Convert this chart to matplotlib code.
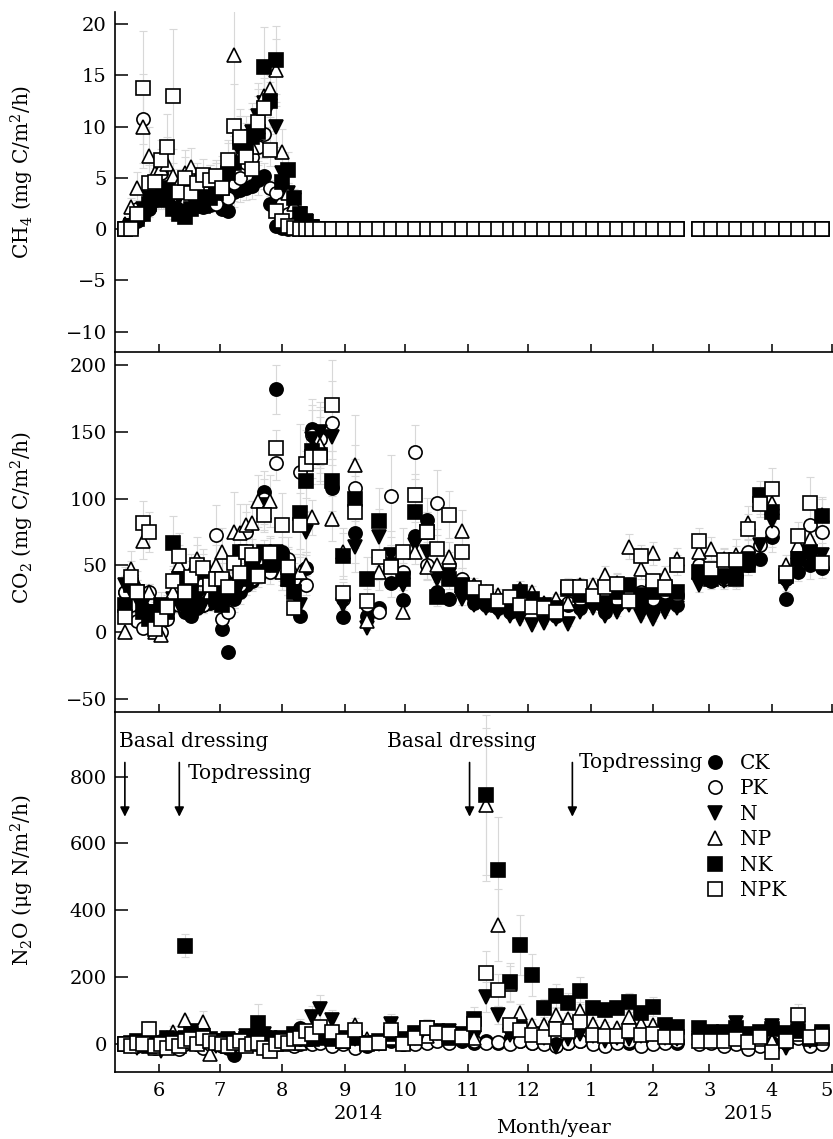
import numpy as np
import matplotlib
matplotlib.use("Agg")
import matplotlib.pyplot as plt
import matplotlib.dates as mdates
from matplotlib.ticker import FuncFormatter

# ====== SAMPLING DAYS (days after 2014-06-01) ======
days_rice = [-17, -14, -11, -8, -5, -2, 1, 4, 7, 10, 13, 16, 19, 22, 25, 28,
             31, 34, 37, 40, 43, 46, 49, 52, 55, 58, 61, 64, 67, 70, 73, 76]
days_wheat = [80, 86, 91, 97, 103, 109, 115, 121, 127, 133, 138, 144, 150, 156,
              162, 168, 174, 179, 185, 191, 197, 203, 209, 215, 221, 227, 233,
              239, 245, 251, 257, 268, 274, 280, 286, 292, 298, 304, 311, 317,
              323, 329]

treatments = ["CK", "PK", "N", "NP", "NK", "NPK"]

# ====== CH4 (mg C/m2/h) ======
ch4_rice = {
    "CK":  [0.0, 0.2, 0.8, 1.5, 2.0, 2.8, 3.2, 3.5, 3.0, 2.5, 2.8, 3.0, 2.6, 2.2, 2.4, 2.6,
            2.0, 1.8, 3.6, 3.8, 4.0, 4.2, 4.8, 5.2, 2.5, 0.3, 0.1, 0.0, 0.0, 0.0, 0.0, 0.0],
    "PK":  [0.0, 0.5, 2.0, 10.8, 3.5, 4.8, 5.5, 4.0, 3.5, 3.2, 3.0, 3.8, 3.5, 2.8, 3.0, 2.5,
            3.5, 3.0, 4.5, 5.0, 6.5, 7.0, 8.0, 9.3, 4.0, 3.5, 2.5, 1.5, 0.5, 0.2, 0.0, 0.0],
    "N":   [0.0, 0.3, 1.0, 2.0, 3.0, 3.5, 4.0, 3.8, 3.2, 3.0, 3.5, 3.0, 3.2, 2.8, 3.5, 4.0,
            4.5, 5.0, 6.5, 7.5, 8.5, 9.5, 11.0, 12.3, 12.0, 10.0, 5.5, 3.5, 2.8, 1.5, 0.8, 0.2],
    "NP":  [0.5, 2.2, 4.0, 10.0, 7.1, 5.5, 6.0, 6.4, 5.2, 4.5, 5.5, 6.1, 5.0, 4.5, 4.8, 5.0,
            5.5, 6.5, 17.0, 7.2, 7.5, 8.0, 10.0, 13.0, 13.7, 15.5, 7.5, 3.5, 2.5, 1.2, 0.4, 0.0],
    "NK":  [0.0, 0.3, 1.0, 1.5, 2.5, 3.0, 2.8, 3.5, 2.0, 1.5, 1.2, 2.0, 2.5, 2.3, 3.0, 3.5,
            4.0, 5.5, 6.5, 8.5, 8.0, 9.0, 9.5, 15.8, 12.5, 16.5, 4.6, 5.8, 3.0, 1.5, 0.7, 0.2],
    "NPK": [0.0, 0.0, 1.5, 13.8, 4.5, 4.6, 6.7, 8.0, 13.0, 3.6, 5.0, 3.5, 4.5, 5.3, 4.8, 5.2,
            4.0, 6.7, 10.1, 9.0, 7.0, 5.9, 10.5, 11.8, 7.7, 1.8, 0.8, 0.3, 0.1, 0.0, 0.0, 0.0],
}
# after drainage all treatments sit at zero
ch4_wheat = [0.0, 0.0, 0.0, 0.0, 0.0, 0.0, 0.0, 0.0, 0.0, 0.0, 0.0, 0.0, 0.0, 0.0,
             0.0, 0.0, 0.0, 0.0, 0.0, 0.0, 0.0, 0.0, 0.0, 0.0, 0.0, 0.0, 0.0, 0.0,
             0.0, 0.0, 0.0, 0.0, 0.0, 0.0, 0.0, 0.0, 0.0, 0.0, 0.0, 0.0, 0.0, 0.0]
ch4_cv_rice = [0.3, 0.4, 0.4, 0.4, 0.4, 0.3, 0.3, 0.4, 0.5, 0.3, 0.4, 0.3, 0.3, 0.3, 0.3, 0.3,
               0.3, 0.3, 0.4, 0.3, 0.3, 0.3, 0.3, 0.25, 0.2, 0.2, 0.3, 0.3, 0.3, 0.3, 0.3, 0.3]

# ====== CO2 (mg C/m2/h) ======
co2_rice = {
    "CK":  [30, 25, 20, 18, 15, 10, 12, 15, 20, 22, 15, 12, 18, 20, 22, 28,
            2, -15, 25, 30, 35, 38, 50, 105, 60, 182, 60, 48, 35, 12, 48, 152],
    "PK":  [30, 20, 8, 3, 30, 5, 0, 10, 25, 20, 30, 35, 25, 20, 30, 73,
            10, 15, 30, 35, 75, 40, 55, 100, 45, 127, 50, 55, 40, 120, 35, 148],
    "N":   [35, 30, 25, 20, 15, 10, 12, 18, 25, 20, 15, 18, 25, 20, 25, 30,
            20, 25, 30, 35, 40, 45, 55, 95, 50, 60, 45, 40, 30, 20, 75, 145],
    "NP":  [0, 47, 35, 68, 30, 0, -2, 20, 30, 50, 35, 45, 55, 40, 30, 50,
            60, 40, 75, 74, 80, 82, 98, 90, 98, 55, 45, 40, 45, 45, 50, 86],
    "NK":  [20, 35, 30, 15, 10, 15, 20, 15, 67, 40, 25, 30, 20, 45, 35, 25,
            20, 35, 30, 60, 40, 55, 45, 60, 50, 55, 55, 40, 30, 89, 113, 136],
    "NPK": [11, 41, 30, 82, 75, 2, 10, 19, 38, 57, 30, 41, 50, 48, 35, 40,
            40, 34, 52, 44, 60, 58, 42, 88, 59, 138, 80, 49, 18, 80, 126, 131],
}
co2_wheat = {
    "CK":  [147, 108, 11, 74, 12, 18, 37, 24, 72, 84, 30, 25, 30, 22, 20, 18, 15, 18, 22, 20, 12,
            20, 18, 22, 15, 20, 25, 22, 18, 22, 20, 45, 38, 40, 42, 50, 55, 71, 25, 45, 50, 48],
    "PK":  [145, 157, 25, 108, 20, 15, 102, 45, 135, 50, 97, 50, 40, 30, 25, 22, 20, 25, 22, 18, 20,
            22, 25, 28, 30, 25, 28, 30, 25, 30, 28, 50, 45, 40, 48, 60, 65, 75, 40, 55, 80, 75],
    "N":   [150, 146, 20, 64, 3, 71, 58, 35, 65, 60, 40, 43, 25, 20, 18, 15, 12, 10, 5, 7, 10,
            6, 15, 18, 12, 15, 20, 12, 10, 15, 18, 35, 40, 38, 45, 55, 65, 83, 36, 50, 60, 58],
    "NP":  [140, 85, 60, 125, 8, 45, 50, 15, 60, 49, 50, 56, 76, 35, 30, 28, 25, 32, 30, 22, 25,
            22, 35, 35, 43, 37, 64, 47, 59, 43, 55, 60, 62, 55, 58, 82, 98, 97, 50, 65, 70, 88],
    "NK":  [133, 113, 57, 100, 40, 83, 50, 40, 90, 75, 26, 40, 35, 30, 25, 20, 22, 30, 25, 20, 18,
            32, 28, 25, 22, 30, 35, 28, 30, 32, 30, 45, 40, 42, 40, 50, 103, 90, 42, 55, 60, 87],
    "NPK": [131, 170, 29, 90, 23, 56, 49, 60, 103, 75, 62, 88, 60, 33, 30, 23, 26, 20, 19, 18, 15,
            34, 34, 27, 34, 36, 23, 57, 38, 34, 50, 68, 47, 54, 54, 77, 96, 107, 44, 72, 97, 52],
}
co2_cv_rice = [0.4, 0.3, 0.3, 0.2, 0.2, 0.5, 0.5, 0.4, 0.3, 0.3, 0.3, 0.3, 0.3, 0.3, 0.3, 0.3,
               0.3, 0.3, 0.4, 0.3, 0.2, 0.2, 0.2, 0.15, 0.2, 0.1, 0.3, 0.3, 0.3, 0.3, 0.2, 0.15]
co2_cv_wheat = [0.15, 0.2, 0.3, 0.3, 0.4, 0.3, 0.3, 0.3, 0.15, 0.2, 0.25, 0.2, 0.2, 0.15,
                0.15, 0.15, 0.15, 0.2, 0.15, 0.15, 0.15, 0.2, 0.15, 0.15, 0.15, 0.2, 0.15, 0.15,
                0.15, 0.15, 0.15, 0.15, 0.15, 0.15, 0.2, 0.15, 0.1, 0.15, 0.15, 0.15, 0.2, 0.15]

# ====== N2O (ug N/m2/h) ======
n2o_rice = {
    "CK":  [0, 5, 10, 0, -5, 5, 10, 0, -5, 0, 10, 5, 0, 10, 15, 5,
            0, -10, -32, 0, 15, 10, 5, 25, 10, 0, 5, 10, 20, 50, 40, 20],
    "PK":  [5, 0, -5, 5, 0, -10, 5, 0, -5, -15, 0, 5, 0, -10, 0, 5,
            -5, 0, 5, -5, 0, 5, 0, -5, 5, 0, 5, 10, -5, 0, 10, 0],
    "N":   [0, -5, -10, -5, 0, -10, -20, -5, 0, 10, 20, 40, 30, 5, 0, -5,
            10, 15, 5, 10, 25, 20, 15, 30, 20, 10, 5, 15, 10, 25, 30, 82],
    "NP":  [0, 5, 0, 15, 10, -10, 0, 20, 37, 10, 73, 20, 5, 67, -29, 10,
            5, 0, 15, 5, 0, 10, 20, 5, 10, 15, 0, 20, 10, 5, 15, 25],
    "NK":  [0, 5, 10, 0, -5, 5, 0, 20, 10, 15, 295, 30, 20, 25, 15, 10,
            5, 0, 10, 5, 15, 20, 63, 20, 10, 15, 20, 10, 30, 25, 20, 15],
    "NPK": [0, -5, 5, 0, 46, -5, 0, -10, 5, -5, 10, 15, 0, 20, 10, 5,
            0, -5, 5, 10, -5, 0, 5, -10, -20, 0, 10, 5, 15, 20, 40, 30],
}
n2o_wheat = {
    "CK":  [10, 0, 5, 10, -5, 5, 10, 0, 20, 15, 25, 20, 10, 5, 10, 5, 15, 10, 5, 10, 0,
            5, 10, 5, 0, 10, 5, 0, 5, 10, 5, 15, 10, 5, 10, 0, 20, 5, 10, 25, 0, 20],
    "PK":  [5, -5, 0, -10, 0, 5, 20, 0, 0, 5, 10, 5, 20, 10, 5, 8, 0, 10, 5, 0, -5,
            5, 10, 0, -5, 5, 10, -5, 0, 5, 10, 0, 5, -5, 0, -15, -5, -10, 5, 20, -5, 0],
    "N":   [105, 73, 20, 15, 5, 0, 60, 10, 20, 30, 35, 40, 30, 20, 142, 88, 28, 50, 30, 20, -8,
            15, 30, 25, 10, 20, 15, 25, 30, 20, 15, 20, 25, 10, 63, 20, 25, 53, -10, 48, 10, 30],
    "NP":  [40, 30, 10, 57, 15, 5, 20, 5, 30, 25, 40, 30, 25, 20, 716, 357, 180, 93, 58, 58, 88,
            75, 100, 60, 55, 50, 80, 60, 58, 40, 30, 20, 15, 20, 25, 10, 15, 10, 20, 30, 15, 20],
    "NK":  [20, 15, 10, 20, 5, 10, 30, 15, 35, 50, 40, 20, 25, 75, 745, 522, 186, 297, 207, 109, 145,
            123, 160, 108, 103, 108, 127, 93, 112, 58, 52, 48, 38, 38, 50, 30, 38, 45, 33, 40, 20, 38],
    "NPK": [52, 38, 10, 43, 0, 5, 43, 0, 20, 48, 35, 30, 22, 60, 212, 162, 58, 43, 28, 23, 45,
            40, 65, 28, 25, 25, 40, 28, 30, 23, 23, 10, 10, 10, 17, 8, 23, -23, 10, 88, 23, 25],
}
n2o_cv_rice = [0.5, 0.5, 0.5, 0.5, 0.5, 0.5, 0.5, 0.5, 0.5, 0.5, 0.12, 0.5, 0.5, 0.5, 0.5, 0.5,
               0.5, 0.5, 0.5, 0.5, 0.5, 0.5, 0.9, 0.5, 0.5, 0.5, 0.5, 0.5, 0.5, 0.5, 0.4, 0.4]
n2o_cv_wheat = [0.4, 0.4, 0.5, 0.4, 0.5, 0.5, 0.5, 0.5, 0.5, 0.5, 0.5, 0.5, 0.5, 0.5,
                0.32, 0.3, 0.3, 0.3, 0.3, 0.25, 0.25, 0.25, 0.25, 0.2, 0.2, 0.2, 0.2, 0.2,
                0.25, 0.3, 0.3, 0.4, 0.4, 0.4, 0.4, 0.4, 0.4, 0.4, 0.4, 0.35, 0.4, 0.4]

# ====== FERTILISER EVENTS ======
fert_dates = ["2014-05-15", "2014-06-11", "2014-11-02", "2014-12-23"]

# ====== STYLE ======
plt.rcParams["font.family"] = "DejaVu Serif"
plt.rcParams["mathtext.fontset"] = "dejavuserif"
plt.rcParams["axes.linewidth"] = 1.2

marker_style = {
    "CK":  ("o", "black"),
    "PK":  ("o", "white"),
    "N":   ("v", "black"),
    "NP":  ("^", "white"),
    "NK":  ("s", "black"),
    "NPK": ("s", "white"),
}

start = np.datetime64("2014-06-01")
all_days = np.array(days_rice + days_wheat)
x = mdates.date2num(start + all_days)
x0 = mdates.date2num(start)

W, H = 833, 1139
fig = plt.figure(figsize=(W / 100, H / 100), dpi=100)
left = 115 / W
width = 1 - left
ax1 = fig.add_axes([left, 1 - 352 / H, width, 340 / H])
ax2 = fig.add_axes([left, 1 - 712 / H, width, 360 / H])
ax3 = fig.add_axes([left, 1 - 1072 / H, width, 360 / H])


def draw_panel(ax, data, cv):
    handles = []
    for name in treatments:
        vals = np.array(data[name], dtype=float)
        assert len(vals) == len(x), (name, len(vals))
        err = np.abs(vals) * np.array(cv)
        ax.errorbar(x, vals, yerr=err, fmt="none", ecolor="#d8d8d8",
                    elinewidth=0.8, capsize=3, capthick=0.8, zorder=1)
    for name in treatments:
        mk, fc = marker_style[name]
        h, = ax.plot(x, data[name], ls="none", marker=mk, ms=9.5, mfc=fc,
                     mec="black", mew=1.2, zorder=3, label=name)
        handles.append(h)
    return handles


ch4 = {k: ch4_rice[k] + ch4_wheat for k in treatments}
ch4_cv = ch4_cv_rice + [0.0] * len(days_wheat)
co2 = {k: co2_rice[k] + co2_wheat[k] for k in treatments}
n2o = {k: n2o_rice[k] + n2o_wheat[k] for k in treatments}

draw_panel(ax1, ch4, ch4_cv)
draw_panel(ax2, co2, co2_cv_rice + co2_cv_wheat)
handles = draw_panel(ax3, n2o, n2o_cv_rice + n2o_cv_wheat)

xmin = x0 - 21.9
xmax = mdates.date2num(np.datetime64("2015-05-01")) + 0.3
month_fmt = FuncFormatter(lambda v, p: str(mdates.num2date(v).month))

for ax in (ax1, ax2, ax3):
    ax.set_xlim(xmin, xmax)
    ax.spines["top"].set_visible(False)
    ax.spines["right"].set_visible(False)
    ax.xaxis.set_major_locator(mdates.MonthLocator())
    ax.tick_params(axis="x", direction="in", length=6, width=1.1, pad=7, labelsize=14)
    ax.tick_params(axis="y", direction="in", length=9, width=1.1, pad=6, labelsize=14)
    ax.patch.set_alpha(0)

ax1.tick_params(axis="x", labelbottom=False)
ax2.tick_params(axis="x", labelbottom=False)
ax3.xaxis.set_major_formatter(month_fmt)

ax1.set_ylim(-12, 21.2)
ax1.set_yticks([-10, -5, 0, 5, 10, 15, 20])
ax2.set_ylim(-60, 210)
ax2.set_yticks([-50, 0, 50, 100, 150, 200])
ax3.set_ylim(-83, 993)
ax3.set_yticks([0, 200, 400, 600, 800])

# y labels
fig.text(22 / W, 1 - 172 / H, r"CH$_4$ (mg C/m$^2$/h)", rotation=90,
         ha="center", va="center", fontsize=14.5)
fig.text(22 / W, 1 - 517 / H, r"CO$_2$ (mg C/m$^2$/h)", rotation=90,
         ha="center", va="center", fontsize=14.5)
fig.text(22 / W, 1 - 880 / H, "N$_2$O (\u03bcg N/m$^2$/h)", rotation=90,
         ha="center", va="center", fontsize=14.5)

# x labels
fig.text(358 / W, 1 - 1114 / H, "2014", ha="center", va="center", fontsize=14)
fig.text(748 / W, 1 - 1114 / H, "2015", ha="center", va="center", fontsize=14)
fig.text(553 / W, 1 - 1128 / H, "Month/year", ha="center", va="center", fontsize=14)

# fertilisation arrows and labels
for d in fert_dates:
    xd = mdates.date2num(np.datetime64(d))
    ax3.annotate("", xy=(xd, 680), xytext=(xd, 842),
                 arrowprops=dict(arrowstyle="-|>", color="black", lw=1.2,
                                 shrinkA=0, shrinkB=0, mutation_scale=14))

ax3.text(mdates.date2num(np.datetime64("2014-05-12")), 904, "Basal dressing",
         ha="left", va="center", fontsize=14.5)
ax3.text(mdates.date2num(np.datetime64("2014-06-15")), 808, "Topdressing",
         ha="left", va="center", fontsize=14.5)
ax3.text(mdates.date2num(np.datetime64("2014-09-22")), 904, "Basal dressing",
         ha="left", va="center", fontsize=14.5)
ax3.text(mdates.date2num(np.datetime64("2014-12-26")), 841, "Topdressing",
         ha="left", va="center", fontsize=14.5)

ax3.legend(handles=handles, labels=treatments, loc="upper left",
           bbox_to_anchor=(705 / W, 1 - 754 / H), bbox_transform=fig.transFigure,
           frameon=False, fontsize=14.5, numpoints=1, handlelength=1.0,
           handletextpad=0.75, labelspacing=0.32, borderpad=0, borderaxespad=0)

# keep the last month label ("5") inside the figure edge
fig.canvas.draw()
ax3.get_xticklabels()[-1].set_horizontalalignment("right")

fig.savefig("out.png", dpi=100)
